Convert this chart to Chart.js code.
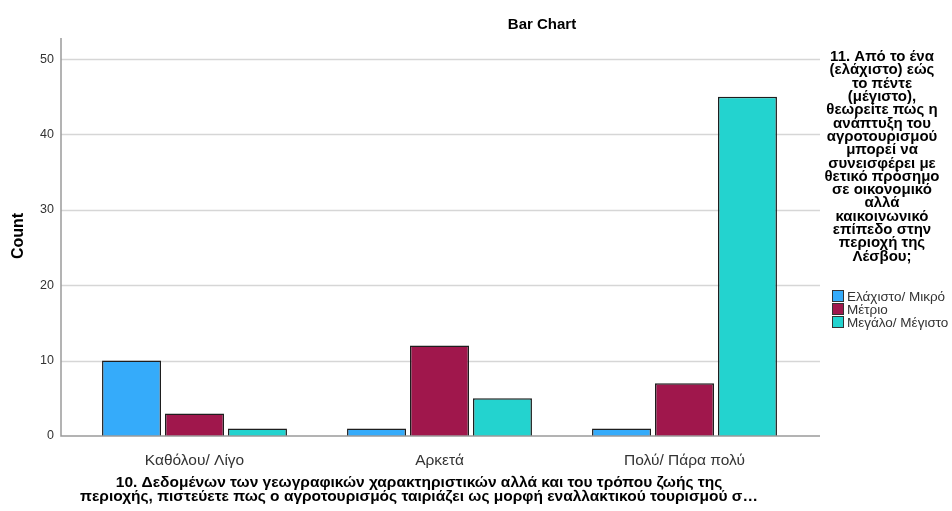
<!DOCTYPE html>
<html>
<head>
<meta charset="utf-8">
<script src="https://cdn.jsdelivr.net/npm/chart.js@4.4.0/dist/chart.umd.min.js"></script>
<style>
  body { margin: 0; background: #fff; }
  #wrap { width: 952px; height: 511px; }
</style>
</head>
<body>
<div id="wrap"><canvas id="barChart" width="952" height="511"></canvas></div>
<script>
// Data
const categories = ['Καθόλου/ Λίγο', 'Αρκετά', 'Πολύ/ Πάρα πολύ'];
const seriesNames = ['Ελάχιστο/ Μικρό', 'Μέτριο', 'Μεγάλο/ Μέγιστο'];
const smallValues = [10, 1, 1];
const mediumValues = [3, 12, 7];
const largeValues = [1, 5, 45];
const yTicks = [0, 10, 20, 30, 40, 50];

const seriesColors = ['#35abfa', '#a0174c', '#23d3cf'];

const chartTitle = 'Bar Chart';
const yTitle = 'Count';
const xTitleLines = [
    '10. Δεδομένων των γεωγραφικών χαρακτηριστικών αλλά και του τρόπου ζωής της',
    'περιοχής, πιστεύετε πως ο αγροτουρισμός ταιριάζει ως μορφή εναλλακτικού τουρισμού σ…'
];
const legendTitleLines = [
    '11. Από το ένα', '(ελάχιστο) εώς', 'το πέντε', '(μέγιστο),',
    'θεωρείτε πως η', 'ανάπτυξη του', 'αγροτουρισμού', 'μπορεί να',
    'συνεισφέρει με', 'θετικό πρόσημο', 'σε οικονομικό', 'αλλά',
    'καικοινωνικό', 'επίπεδο στην', 'περιοχή της', 'Λέσβου;'
];

const FONT = '"Liberation Sans", Arial, sans-serif';

// SPSS style frame: gridlines, axis lines, titles and legend
const spssFrame = {
    id: 'spssFrame',
    beforeDatasetsDraw(chart) {
        const ctx = chart.ctx;
        const area = chart.chartArea;
        const y = chart.scales.y;
        ctx.save();
        ctx.strokeStyle = '#d6d6d6';
        ctx.lineWidth = 1.5;
        yTicks.forEach(v => {
            if (v === 0) return;
            const py = Math.round(y.getPixelForValue(v)) + 0.5;
            ctx.beginPath();
            ctx.moveTo(area.left - 11, py);
            ctx.lineTo(area.right + 13, py);
            ctx.stroke();
        });
        ctx.restore();
    },
    afterDatasetsDraw(chart) {
        const ctx = chart.ctx;
        const area = chart.chartArea;
        ctx.save();
        ctx.strokeStyle = '#9a9a9a';
        ctx.lineWidth = 1.5;
        ctx.beginPath();
        ctx.moveTo(area.left - 11, area.top);
        ctx.lineTo(area.left - 11, area.bottom);
        ctx.lineTo(area.right + 13, area.bottom);
        ctx.stroke();

        // chart title
        ctx.fillStyle = '#000';
        ctx.textAlign = 'center';
        ctx.textBaseline = 'middle';
        ctx.font = 'bold 15px ' + FONT;
        ctx.fillText(chartTitle, 542, 25);

        // x axis title
        ctx.textBaseline = 'alphabetic';
        ctx.font = 'bold 15.5px ' + FONT;
        xTitleLines.forEach((line, i) => ctx.fillText(line, 419, 487 + i * 14));

        // y axis title
        ctx.save();
        ctx.translate(19, 236);
        ctx.rotate(-Math.PI / 2);
        ctx.textBaseline = 'middle';
        ctx.font = 'bold 16px ' + FONT;
        ctx.fillText(yTitle, 0, 0);
        ctx.restore();

        // legend title
        ctx.textBaseline = 'middle';
        ctx.font = 'bold 15px ' + FONT;
        legendTitleLines.forEach((line, i) => ctx.fillText(line, 882, 57 + i * 13.3));

        // legend items
        ctx.textAlign = 'left';
        ctx.font = '13.5px ' + FONT;
        chart.data.datasets.forEach((ds, i) => {
            const ly = 296 + i * 13;
            ctx.fillStyle = ds.backgroundColor;
            ctx.fillRect(832, ly - 6, 12, 12);
            ctx.strokeStyle = '#333';
            ctx.lineWidth = 1;
            ctx.strokeRect(832.5, ly - 5.5, 11, 11);
            ctx.fillStyle = '#333';
            ctx.fillText(ds.label, 847, ly + 1);
        });
        ctx.restore();
    }
};

const ctx = document.getElementById('barChart').getContext('2d');
const barChart = new Chart(ctx, {
    type: 'bar',
    data: {
        labels: categories,
        datasets: [smallValues, mediumValues, largeValues].map((vals, i) => ({
            label: seriesNames[i],
            data: vals,
            backgroundColor: seriesColors[i],
            borderColor: '#1e1e1e',
            borderWidth: 1.5,
            categoryPercentage: 0.771,
            barPercentage: 0.937
        }))
    },
    options: {
        responsive: false,
        animation: false,
        layout: {
            padding: { left: 0, top: 38, right: 145, bottom: 0 }
        },
        plugins: {
            legend: { display: false },
            title: { display: false },
            tooltip: { enabled: false }
        },
        scales: {
            x: {
                grid: { display: false },
                border: { display: false },
                ticks: {
                    color: '#333',
                    padding: 7,
                    font: { size: 15.5, family: FONT }
                },
                afterFit(scale) { scale.height = 75; }
            },
            y: {
                min: 0,
                max: 52.8,
                grid: { display: false, drawTicks: false },
                border: { display: false },
                afterBuildTicks(scale) {
                    scale.ticks = yTicks.map(v => ({ value: v }));
                },
                ticks: {
                    color: '#333',
                    padding: 18,
                    font: { size: 12.5, family: FONT }
                },
                afterFit(scale) { scale.width = 72; }
            }
        }
    },
    plugins: [spssFrame]
});
</script>
</body>
</html>
